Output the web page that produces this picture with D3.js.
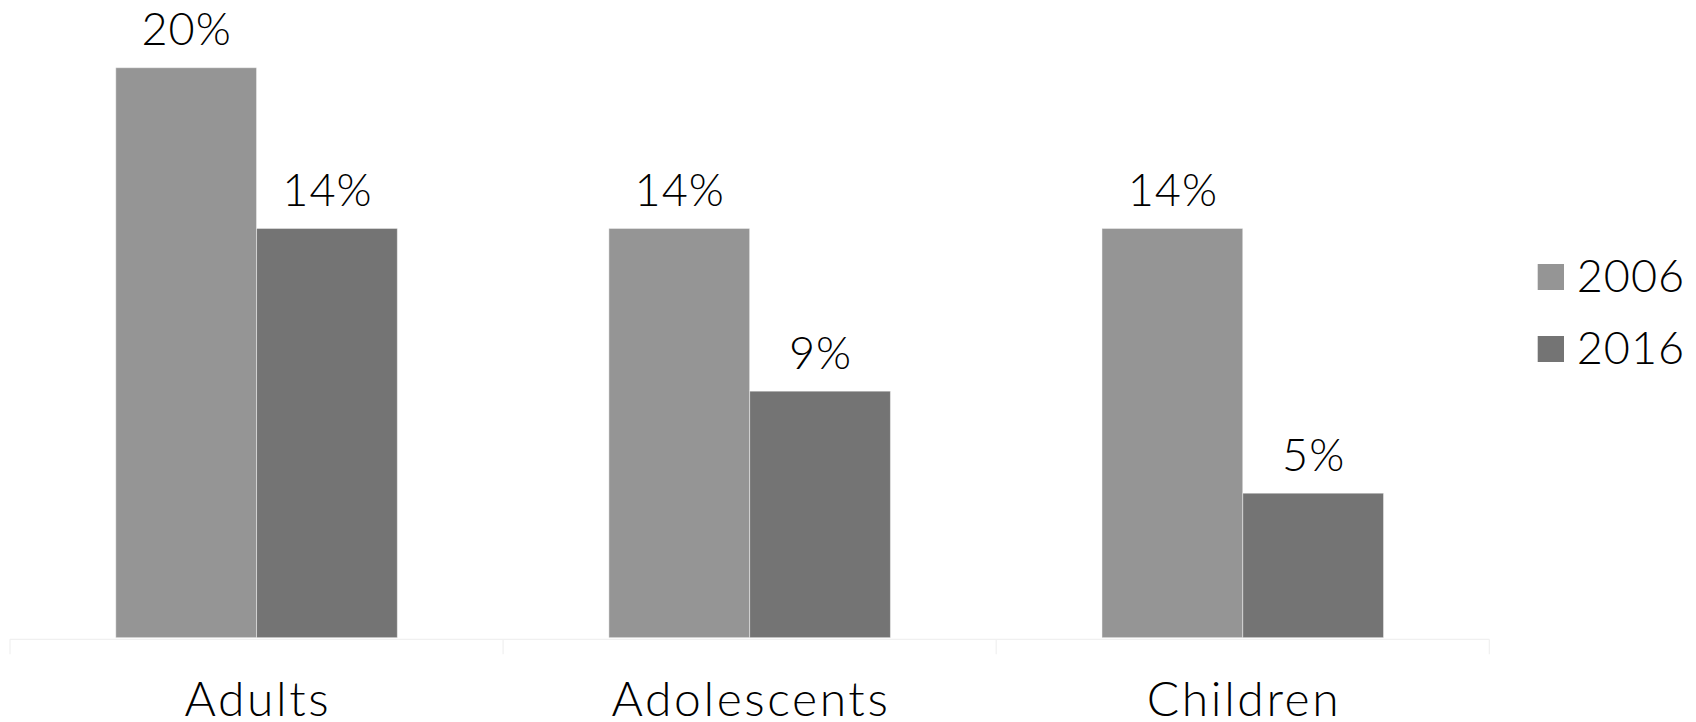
<!DOCTYPE html>
<html>
<head>
<meta charset="utf-8">
<script src="https://cdn.jsdelivr.net/npm/d3@7"></script>
<style>
  html, body { margin: 0; padding: 0; background: #ffffff; }
  svg { display: block; }
  text { font-family: Lato, "Open Sans", sans-serif; font-weight: 300; fill: #000; }
</style>
</head>
<body>
<svg id="chart" width="1696" height="722"></svg>
<script>
// ---- data ----
const categories = ["Adults", "Adolescents", "Children"];
const seriesNames = ["2006", "2016"];
const values2006 = [20.0, 14.36, 14.36];
const values2016 = [14.36, 8.65, 5.07];
const seriesColors = ["#959595", "#747474"];

const seriesValues = [values2006, values2016];
const rows = categories.map((c, i) => ({
  category: c,
  values: seriesNames.map((s, j) => ({ series: s, value: seriesValues[j][i] }))
}));

// ---- layout ----
const svg = d3.select("#chart");
const plotLeft = 10, plotRight = 1489.3, baseY = 637.7, topY = 67.7;

const x = d3.scaleBand().domain(categories).range([plotLeft, plotRight]).paddingInner(0).paddingOuter(0);
const bw = x.bandwidth();
const xInner = d3.scaleBand().domain(seriesNames).range([bw * 0.2145, bw * 0.7855]).padding(0);
const y = d3.scaleLinear().domain([0, 20]).range([baseY, topY]);
const color = d3.scaleOrdinal().domain(seriesNames).range(seriesColors);
const fmt = v => Math.round(v) + "%";

// axis line + tick marks
const axisG = svg.append("g").attr("transform", `translate(0,${baseY + 1.6})`);
axisG.append("line")
  .attr("x1", plotLeft).attr("x2", plotRight)
  .attr("y1", 0).attr("y2", 0)
  .attr("stroke", "#f0f0f0").attr("stroke-width", 1.2);
const tickPositions = categories.map(c => x(c)).concat([plotRight]);
axisG.selectAll("line.tick").data(tickPositions).enter().append("line")
  .attr("class", "tick")
  .attr("x1", d => d).attr("x2", d => d)
  .attr("y1", 0).attr("y2", 15)
  .attr("stroke", "#f0f0f0").attr("stroke-width", 1.2);

// category labels
const catSpacing = 2.6;
svg.selectAll("text.cat").data(categories).enter().append("text")
  .attr("class", "cat")
  .attr("x", d => x(d) + bw / 2 + catSpacing / 2)
  .attr("y", 716)
  .attr("text-anchor", "middle")
  .style("font-size", "48px")
  .style("letter-spacing", catSpacing + "px")
  .text(d => d);

// bars
const groups = svg.selectAll("g.cat").data(rows).enter().append("g")
  .attr("class", "cat")
  .attr("transform", d => `translate(${x(d.category)},0)`);

groups.selectAll("rect").data(d => d.values).enter().append("rect")
  .attr("x", d => xInner(d.series))
  .attr("width", xInner.bandwidth())
  .attr("y", d => y(d.value))
  .attr("height", d => y(0) - y(d.value))
  .attr("fill", d => color(d.series))
  .attr("stroke", "#ffffff").attr("stroke-opacity", 0.45).attr("stroke-width", 1);

groups.selectAll("text.val").data(d => d.values).enter().append("text")
  .attr("class", "val")
  .attr("x", d => xInner(d.series) + xInner.bandwidth() / 2 + 0.5)
  .attr("y", d => y(d.value) - 22.5)
  .attr("text-anchor", "middle")
  .style("font-size", "45px")
  .style("letter-spacing", "1px")
  .text(d => fmt(d.value));

// legend
const legend = svg.append("g").attr("transform", "translate(1537.7,264)");
const li = legend.selectAll("g").data(seriesNames).enter().append("g")
  .attr("transform", (d, i) => `translate(0,${i * 72})`);
li.append("rect").attr("width", 26.3).attr("height", 26).attr("fill", d => color(d));
li.append("text").attr("x", 39).attr("y", 27.5).style("font-size", "45px").style("letter-spacing", "1px").text(d => d);
</script>
</body>
</html>
